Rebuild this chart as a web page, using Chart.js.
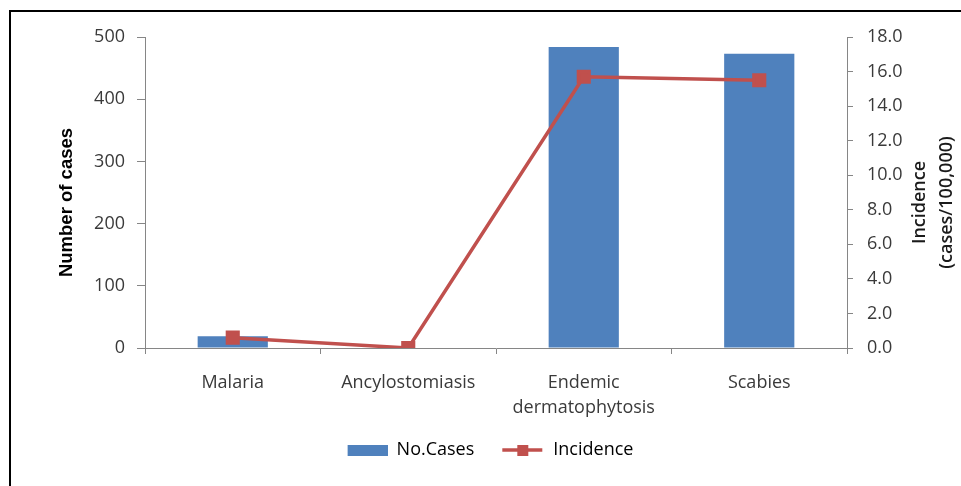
<!DOCTYPE html>
<html>
<head>
<meta charset="utf-8">
<script src="https://cdn.jsdelivr.net/npm/chart.js@4.4.1/dist/chart.umd.min.js"></script>
<style>
  html, body { margin: 0; padding: 0; background: #fff; }
  #wrap { position: relative; width: 961px; height: 486px; overflow: hidden; }
  #frame { position: absolute; left: 9px; top: 10px; width: 1000px; height: 600px;
           border-left: 2px solid #000; border-top: 2px solid #000; pointer-events: none; }
  canvas { display: block; }
</style>
</head>
<body>
<div id="wrap">
  <canvas id="c" width="961" height="486"></canvas>
  <div id="frame"></div>
</div>
<script>
// Disease categories and their values
const categories = ['Malaria', 'Ancylostomiasis', ['Endemic', 'dermatophytosis'], 'Scabies'];
const numberOfCases = [19, 0, 484, 473];
const incidence = [0.6, 0.0, 15.7, 15.5];
const seriesNames = ['No.Cases', 'Incidence'];
const leftAxisTitle = 'Number of cases';
const rightAxisTitle = ['Incidence', '(cases/100,000)'];

const BLUE = '#4F81BD';
const RED = '#C0504D';
const AXIS = '#868686';
const TICK_TEXT = '#3a3a3a';
const FONT = "'Open Sans', sans-serif";
const SWATCH_W = 60;

// Legend swatches: a bar block and a line with a square marker,
// right-aligned inside a fixed-width image so the items sit apart
function barSwatch() {
  const cv = document.createElement('canvas');
  cv.width = SWATCH_W; cv.height = 11;
  const g = cv.getContext('2d');
  g.fillStyle = BLUE;
  g.fillRect(SWATCH_W - 40, 0, 40, 11);
  return cv;
}
function lineSwatch() {
  const cv = document.createElement('canvas');
  cv.width = SWATCH_W; cv.height = 12;
  const g = cv.getContext('2d');
  const x0 = SWATCH_W - 42;
  g.strokeStyle = RED; g.lineWidth = 3.5;
  g.beginPath(); g.moveTo(x0, 6); g.lineTo(SWATCH_W - 2, 6); g.stroke();
  g.fillStyle = RED;
  g.fillRect(x0 + 15, 1, 11, 11);
  return cv;
}

// Axis titles drawn reading bottom-to-top on both sides
const axisTitles = {
  id: 'axisTitles',
  afterDraw(chart) {
    const ctx = chart.ctx;
    const yL = chart.scales.y, yR = chart.scales.y1;
    const midY = (chart.chartArea.top + chart.chartArea.bottom) / 2 + 10;
    ctx.save();
    ctx.textAlign = 'center';
    ctx.textBaseline = 'middle';
    ctx.fillStyle = '#000';
    ctx.font = "bold 18.5px 'Liberation Sans', Arial, sans-serif";
    ctx.translate(yL.left + 67, midY);
    ctx.rotate(-Math.PI / 2);
    ctx.fillText(leftAxisTitle, 0, 0);
    ctx.restore();

    ctx.save();
    ctx.textAlign = 'center';
    ctx.textBaseline = 'middle';
    ctx.fillStyle = '#1a1a1a';
    ctx.font = "600 18px " + FONT;
    ctx.translate(yR.left + 73, midY);
    ctx.rotate(-Math.PI / 2);
    ctx.fillText(rightAxisTitle[0], 0, 0);
    ctx.fillText(rightAxisTitle[1], 0, 27);
    ctx.restore();
  }
};

new Chart(document.getElementById('c'), {
  data: {
    labels: categories,
    datasets: [
      {
        type: 'line',
        label: seriesNames[1],
        data: incidence,
        yAxisID: 'y1',
        borderColor: RED,
        backgroundColor: RED,
        borderWidth: 3.5,
        pointStyle: 'rect',
        pointRadius: 7.5,
        pointHoverRadius: 7.5,
        tension: 0,
        order: 1
      },
      {
        type: 'bar',
        label: seriesNames[0],
        data: numberOfCases,
        yAxisID: 'y',
        backgroundColor: BLUE,
        borderWidth: 0,
        categoryPercentage: 1.0,
        barPercentage: 0.4,
        order: 2
      }
    ]
  },
  options: {
    responsive: false,
    animation: false,
    devicePixelRatio: 1,
    layout: { padding: { top: 37, left: 0, right: 0, bottom: 17 } },
    plugins: {
      tooltip: { enabled: false },
      legend: {
        position: 'bottom',
        labels: {
          usePointStyle: true,
          pointStyleWidth: SWATCH_W,
          boxHeight: 12,
          padding: 10,
          color: '#1a1a1a',
          font: { family: FONT, size: 18 },
          generateLabels() {
            return [
              { text: seriesNames[0], pointStyle: barSwatch(), fillStyle: BLUE, strokeStyle: BLUE, lineWidth: 0, hidden: false, datasetIndex: 1 },
              { text: seriesNames[1], pointStyle: lineSwatch(), fillStyle: RED, strokeStyle: RED, lineWidth: 0, hidden: false, datasetIndex: 0 }
            ];
          }
        }
      }
    },
    scales: {
      x: {
        type: 'category',
        offset: true,
        afterFit(scale) { scale.height = 83; },
        grid: { offset: true, drawOnChartArea: false, drawTicks: true, tickLength: 6, color: AXIS },
        border: { color: AXIS, width: 1 },
        ticks: { color: TICK_TEXT, font: { family: FONT, size: 18, lineHeight: 1.4 }, padding: 16, maxRotation: 0 }
      },
      y: {
        position: 'left',
        min: 0, max: 500,
        afterFit(scale) { scale.width = 145; },
        grid: { drawOnChartArea: false, drawTicks: true, tickLength: 8, color: AXIS },
        border: { color: AXIS, width: 1 },
        ticks: { stepSize: 100, color: TICK_TEXT, font: { family: FONT, size: 18 }, padding: 12 }
      },
      y1: {
        position: 'right',
        min: 0, max: 18,
        afterFit(scale) { scale.width = 114; },
        grid: { drawOnChartArea: false, drawTicks: true, tickLength: 6, color: AXIS },
        border: { color: AXIS, width: 1 },
        ticks: { stepSize: 2, color: TICK_TEXT, font: { family: FONT, size: 18 }, padding: 14,
                 callback: v => Number(v).toFixed(1) }
      }
    }
  },
  plugins: [axisTitles]
});
</script>
</body>
</html>
